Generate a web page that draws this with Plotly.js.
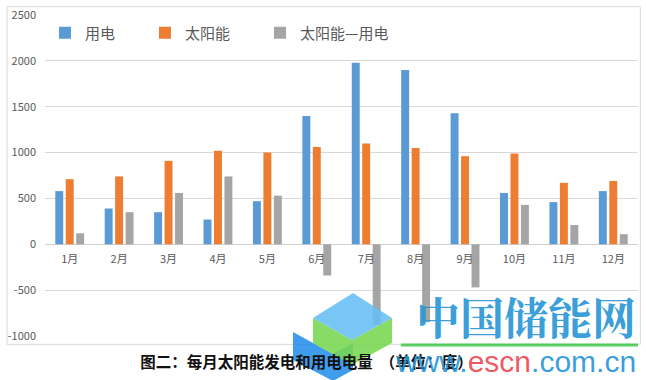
<!DOCTYPE html>
<html>
<head>
<meta charset="utf-8">
<script src="https://cdn.plot.ly/plotly-3.0.1.min.js"></script>
<style>
html,body{margin:0;padding:0;background:#fff;}
#chart{width:646px;height:380px;}
</style>
</head>
<body>
<div id="chart"></div>
<script>
const months = ["1月","2月","3月","4月","5月","6月","7月","8月","9月","10月","11月","12月"];
const usage = [580, 390, 350, 270, 470, 1400, 1980, 1900, 1430, 560, 460, 580];
const solar = [710, 740, 910, 1020, 1000, 1060, 1100, 1050, 960, 990, 670, 690];
const diff = [120, 350, 560, 740, 530, -340, -880, -850, -470, 430, 210, 110];
const seriesNames = ["用电", "太阳能", "太阳能—用电"];
const yTicks = [-1000, -500, 0, 500, 1000, 1500, 2000, 2500];

const FONT = '"Noto Sans CJK SC", "Noto Sans", sans-serif';
const colors = ["#5B9BD5", "#ED7D31", "#A5A5A5"];
const legendIds = ['legend', 'legend2', 'legend3'];

const traces = [usage, solar, diff].map((vals, i) => ({
  type: 'bar',
  name: seriesNames[i],
  x: months,
  y: vals,
  marker: {color: colors[i]},
  legend: legendIds[i],
  hoverinfo: 'x+y+name'
}));

// watermark logo (decorative, paper coords computed from pixel positions)
const L = 45, T = 15, PW = 646 - 45 - 8, PH = 380 - 15 - 44;
const px = x => ((x - L) / PW).toFixed(4);
const py = y => ((T + PH - y) / PH).toFixed(4);
const poly = pts => 'M' + pts.map(p => px(p[0]) + ',' + py(p[1])).join('L') + 'Z';

const legendBase = {
  orientation: 'h',
  y: 0.944, xanchor: 'left', yanchor: 'middle',
  font: {family: FONT, size: 15, color: '#595959'},
  bgcolor: 'rgba(0,0,0,0)'
};

const layout = {
  width: 646,
  height: 380,
  margin: {l: 45, r: 8, t: 15, b: 44},
  paper_bgcolor: '#ffffff',
  plot_bgcolor: '#ffffff',
  font: {family: FONT, color: '#595959', size: 11},
  barmode: 'group',
  bargap: 0.365,
  bargroupgap: 0.24,
  showlegend: true,
  legend: Object.assign({}, legendBase, {x: 0.0}),
  legend2: Object.assign({}, legendBase, {x: 0.1686}),
  legend3: Object.assign({}, legendBase, {x: 0.3626}),
  xaxis: {
    type: 'category',
    anchor: 'free',
    position: 1000/3500,
    showline: false,
    showgrid: false,
    zeroline: false,
    ticks: '',
    ticklabelstandoff: 7,
    tickfont: {family: FONT, size: 11, color: '#595959'},
    fixedrange: true
  },
  yaxis: {
    range: [-1000, 2500],
    tickvals: yTicks,
    ticktext: yTicks.map(String),
    showgrid: true,
    gridcolor: '#d9d9d9',
    gridwidth: 1,
    zeroline: true,
    zerolinecolor: '#d0d0d0',
    zerolinewidth: 1,
    showline: false,
    ticks: '',
    ticklabelstandoff: 8,
    tickfont: {family: FONT, size: 11, color: '#595959'},
    fixedrange: true
  },
  title: {
    text: '图二：每月太阳能发电和用电电量&nbsp;&nbsp;（单位：度）',
    font: {family: FONT, size: 15.5, color: '#111111', weight: 'bold'},
    x: 0.4745, xanchor: 'center', xref: 'container',
    y: 0.045, yanchor: 'middle', yref: 'container'
  },
  shapes: [
    {type: 'rect', xref: 'paper', yref: 'paper', x0: -0.064, x1: 1.004, y0: -0.026, y1: 1.026,
     line: {color: '#d9d9d9', width: 1}, fillcolor: 'rgba(0,0,0,0)', layer: 'below'},
    {type: 'line', xref: 'paper', yref: 'paper', x0: 0.6, x1: 1.0, y0: -0.028, y1: -0.028,
     line: {color: 'rgba(60,200,70,0.85)', width: 3}},
    {type: 'path', xref: 'paper', yref: 'paper', line: {width: 0},
     fillcolor: 'rgba(30,140,235,0.85)',
     path: poly([[293,332],[333,354],[353,343],[353,370],[333,381],[293,360]])},
    {type: 'path', xref: 'paper', yref: 'paper', line: {width: 0},
     fillcolor: 'rgba(120,215,80,0.88)',
     path: poly([[313,318],[352,340],[392,318],[392,343],[352,365],[313,343]])},
    {type: 'path', xref: 'paper', yref: 'paper', line: {width: 0},
     fillcolor: 'rgba(100,190,245,0.88)',
     path: poly([[313,318],[353,293],[392,318],[352,340]])}
  ],
  annotations: [
    {text: '<b>中国储能网</b>', xref: 'paper', yref: 'paper', x: 1.0, y: 0.062,
     xanchor: 'right', yanchor: 'middle', showarrow: false,
     font: {family: '"Noto Serif CJK SC", "Noto Sans CJK SC", serif', size: 44, color: 'rgba(40,150,215,0.92)'}},
    {text: 'www.<span style="color:rgba(235,60,70,0.92)">escn</span>.com.cn', xref: 'paper', yref: 'paper',
     x: 1.0, y: -0.078, xanchor: 'right', yanchor: 'middle', showarrow: false,
     font: {family: '"Liberation Sans", Arial, sans-serif', size: 30, color: 'rgba(40,150,215,0.92)'}}
  ]
};

Plotly.newPlot('chart', traces, layout, {displayModeBar: false});
</script>
</body>
</html>
